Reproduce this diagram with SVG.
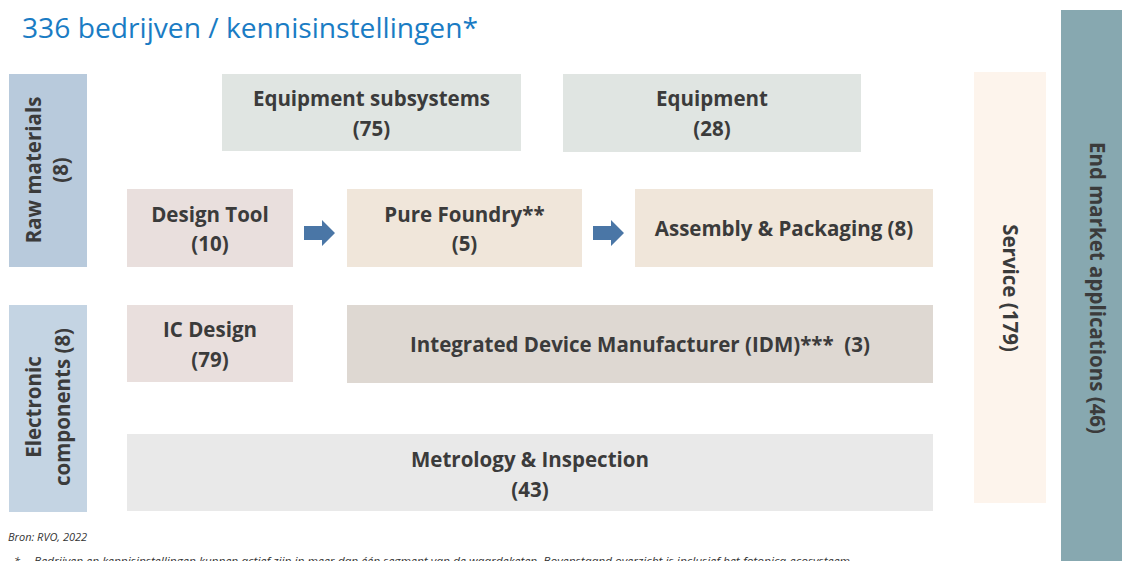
<svg xmlns="http://www.w3.org/2000/svg" width="1122" height="561" viewBox="0 0 1122 561">
<defs>
<style>
.lbl{font-family:"Open Sans","Noto Sans","Liberation Sans",sans-serif;font-weight:700;font-size:20.5px;fill:#3b3b3b;text-anchor:middle}
.title{font-family:"Open Sans","Noto Sans","Liberation Sans",sans-serif;font-size:27px;fill:#1a7cc4}
.note{font-family:"Open Sans","Noto Sans","Liberation Sans",sans-serif;font-style:italic;font-size:11px;fill:#333}
.arrow{fill:#4a76a6}
</style>
</defs>
<rect width="1122" height="561" fill="#ffffff"/>
<text class="title" x="22" y="38" textLength="456" lengthAdjust="spacingAndGlyphs">336 bedrijven / kennisinstellingen*</text>

<g id="raw-materials">
<rect x="9" y="74" width="78" height="193" fill="#b8cadc"/>
<text class="lbl" transform="translate(41,170) rotate(-90)">Raw materials</text>
<text class="lbl" transform="translate(68,170) rotate(-90)">(8)</text>
</g>
<g id="electronic-components">
<rect x="9" y="305" width="78" height="207" fill="#c4d4e3"/>
<text class="lbl" transform="translate(41,407) rotate(-90)">Electronic</text>
<text class="lbl" transform="translate(70,407) rotate(-90)">components (8)</text>
</g>
<g id="equipment-subsystems">
<rect x="222" y="74" width="299" height="77" fill="#e0e5e2"/>
<text class="lbl" x="371.5" y="106">Equipment subsystems</text>
<text class="lbl" x="371.5" y="136">(75)</text>
</g>
<g id="equipment">
<rect x="563" y="74" width="298" height="78" fill="#e0e5e2"/>
<text class="lbl" x="712" y="106">Equipment</text>
<text class="lbl" x="712" y="136">(28)</text>
</g>
<g id="design-tool">
<rect x="127" y="189" width="166" height="78" fill="#e9dfdd"/>
<text class="lbl" x="210" y="222">Design Tool</text>
<text class="lbl" x="210" y="251">(10)</text>
</g>
<g id="pure-foundry">
<rect x="347" y="189" width="235" height="78" fill="#f0e6da"/>
<text class="lbl" x="464.5" y="222">Pure Foundry**</text>
<text class="lbl" x="464.5" y="251">(5)</text>
</g>
<g id="assembly-packaging">
<rect x="635" y="189" width="298" height="78" fill="#f0e6da"/>
<text class="lbl" x="784" y="236">Assembly &amp; Packaging (8)</text>
</g>
<g id="ic-design">
<rect x="127" y="305" width="166" height="77" fill="#e9dfdd"/>
<text class="lbl" x="210" y="337">IC Design</text>
<text class="lbl" x="210" y="367">(79)</text>
</g>
<g id="idm">
<rect x="347" y="305" width="586" height="78" fill="#ded8d2"/>
<text class="lbl" x="640" y="352" xml:space="preserve">Integrated Device Manufacturer (IDM)***  (3)</text>
</g>
<g id="metrology-inspection">
<rect x="127" y="434" width="806" height="77" fill="#e9e9e9"/>
<text class="lbl" x="530" y="467">Metrology &amp; Inspection</text>
<text class="lbl" x="530" y="497">(43)</text>
</g>
<g id="service">
<rect x="974" y="72" width="72" height="431" fill="#fdf4ec"/>
<text class="lbl" transform="translate(1003,288) rotate(90)">Service (179)</text>
</g>
<g id="end-market-applications">
<rect x="1061" y="10" width="61" height="551" fill="#87a8b0"/>
<text class="lbl" transform="translate(1090,288) rotate(90)">End market applications (46)</text>
</g>

<g id="connectors">
<polygon class="arrow" points="304,226 322,226 322,220 335,233 322,246 322,240 304,240"/>
<polygon class="arrow" points="593,226 611,226 611,220 624,233 611,246 611,240 593,240"/>
</g>

<text class="note" x="8" y="541">Bron: RVO, 2022</text>
<text class="note" x="14" y="565">*</text>
<text class="note" x="34" y="565" textLength="819" lengthAdjust="spacingAndGlyphs">Bedrijven en kennisinstellingen kunnen actief zijn in meer dan één segment van de waardeketen. Bovenstaand overzicht is inclusief het fotonica-ecosysteem.</text>
</svg>
